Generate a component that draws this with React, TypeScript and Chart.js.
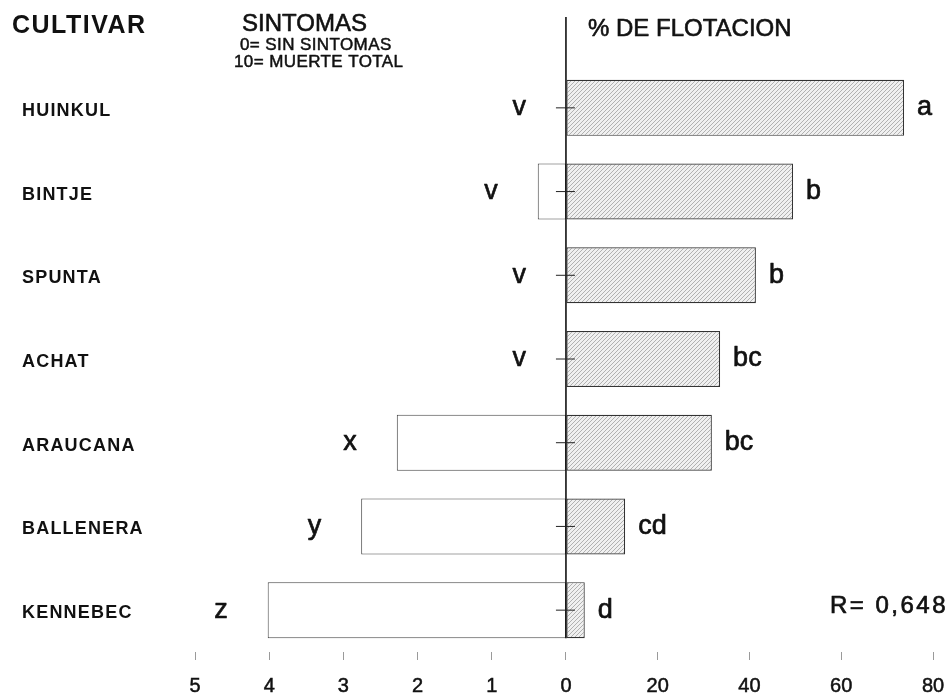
import React, { useEffect, useRef } from 'react';
import { Chart, registerables } from 'chart.js';

Chart.register(...registerables);

const FONT = "'Liberation Sans', Arial, Helvetica, sans-serif";

const CULTIVARS = ['HUINKUL', 'BINTJE', 'SPUNTA', 'ACHAT', 'ARAUCANA', 'BALLENERA', 'KENNEBEC'];
const SYMPTOMS = [0, 0.38, 0, 0, 2.28, 2.76, 4.02];
const FLOTATION = [73.7, 49.5, 41.4, 33.6, 31.8, 12.9, 4.1];
const SYMPTOM_LETTERS = ['v', 'v', 'v', 'v', 'x', 'y', 'z'];
const FLOTATION_LETTERS = ['a', 'b', 'b', 'bc', 'bc', 'cd', 'd'];
const SYMPTOM_TICKS = [5, 4, 3, 2, 1];
const FLOTATION_TICKS = [0, 20, 40, 60, 80];
const SYMPTOM_MAX = 5;
const FLOTATION_MAX = 80;
// how many % flotation units one symptom unit spans on the shared axis
const RATIO = 16.17;
const R_TEXT = 'R= 0,648';

function makeHatch(ctx: CanvasRenderingContext2D) {
  const c = document.createElement('canvas');
  c.width = 4;
  c.height = 4;
  const g = c.getContext('2d')!;
  g.fillStyle = '#f0f0f0';
  g.fillRect(0, 0, 4, 4);
  g.strokeStyle = '#a9a9a9';
  g.lineWidth = 0.9;
  g.beginPath();
  g.moveTo(0, 4);
  g.lineTo(4, 0);
  g.moveTo(-1, 1);
  g.lineTo(1, -1);
  g.moveTo(3, 5);
  g.lineTo(5, 3);
  g.stroke();
  return ctx.createPattern(c, 'repeat');
}

function heavyText(ctx: CanvasRenderingContext2D, t: string, x: number, y: number, w: number) {
  ctx.lineWidth = w;
  ctx.strokeStyle = ctx.fillStyle as string;
  ctx.lineJoin = 'round';
  ctx.strokeText(t, x, y);
  ctx.fillText(t, x, y);
}

const annotate = {
  id: 'annotate',
  afterDatasetsDraw(chart: any) {
    const ctx = chart.ctx;
    const xs = chart.scales.x;
    const ys = chart.scales.y;
    const x0 = xs.getPixelForValue(0);
    const metaS = chart.getDatasetMeta(0);
    const metaF = chart.getDatasetMeta(1);
    const last = metaF.data[metaF.data.length - 1];
    const bottom = last.y + last.height / 2;
    ctx.save();
    ctx.strokeStyle = '#111';
    ctx.lineWidth = 1.6;
    ctx.beginPath();
    ctx.moveTo(x0, 17);
    ctx.lineTo(x0, bottom);
    ctx.stroke();
    ctx.lineWidth = 1;
    ctx.strokeStyle = '#222';
    CULTIVARS.forEach((_, i) => {
      const py = ys.getPixelForValue(i);
      ctx.beginPath();
      ctx.moveTo(x0 - 10, py);
      ctx.lineTo(x0 + 9, py);
      ctx.stroke();
    });
    ctx.font = `27px ${FONT}`;
    ctx.fillStyle = '#111';
    ctx.textBaseline = 'middle';
    FLOTATION_LETTERS.forEach((t, i) => {
      const el = metaF.data[i];
      ctx.textAlign = 'left';
      heavyText(ctx, t, el.x + 13, el.y, 0.7);
    });
    SYMPTOM_LETTERS.forEach((t, i) => {
      const el = metaS.data[i];
      ctx.textAlign = 'right';
      heavyText(ctx, t, el.x - 40, el.y, 0.7);
    });
    ctx.restore();
    // y-axis labels (drawn right after this hook) use wide tracking
    ctx.letterSpacing = '1.2px';
  },
  afterDraw(chart: any) {
    const ctx = chart.ctx;
    ctx.letterSpacing = '0px';
    ctx.save();
    ctx.fillStyle = '#111';
    ctx.textBaseline = 'middle';
    ctx.textAlign = 'left';

    ctx.font = `bold 25px ${FONT}`;
    ctx.letterSpacing = '1.5px';
    ctx.fillText('CULTIVAR', 12, 26);

    ctx.letterSpacing = '0px';
    ctx.font = `24px ${FONT}`;
    heavyText(ctx, 'SINTOMAS', 242, 24, 0.6);
    ctx.font = `17px ${FONT}`;
    ctx.letterSpacing = '0.4px';
    heavyText(ctx, '0= SIN SINTOMAS', 240, 45, 0.5);
    heavyText(ctx, '10= MUERTE TOTAL', 234, 62, 0.5);

    ctx.letterSpacing = '0px';
    ctx.font = `24px ${FONT}`;
    heavyText(ctx, '% DE FLOTACION', 588, 29, 0.6);

    ctx.font = `24px ${FONT}`;
    ctx.letterSpacing = '2.5px';
    ctx.textAlign = 'right';
    heavyText(ctx, R_TEXT, 948, 606, 0.7);
    ctx.restore();
    ctx.letterSpacing = '0px';
  },
};

export default function App() {
  const ref = useRef<HTMLCanvasElement>(null);

  useEffect(() => {
    const canvas = ref.current!;
    const ctx = canvas.getContext('2d')!;
    const hatch = makeHatch(ctx);
    const chart = new Chart(canvas, {
      type: 'bar',
      data: {
        labels: CULTIVARS,
        datasets: [
          {
            label: 'Síntomas',
            data: SYMPTOMS,
            xAxisID: 'xs',
            backgroundColor: '#ffffff',
            borderColor: '#444',
            borderWidth: 1,
            borderSkipped: false,
            grouped: false,
            categoryPercentage: 1,
            barPercentage: 0.669,
          } as any,
          {
            label: '% de flotación',
            data: FLOTATION,
            xAxisID: 'x',
            backgroundColor: hatch as any,
            borderColor: '#333',
            borderWidth: 1.2,
            borderSkipped: false,
            grouped: false,
            categoryPercentage: 1,
            barPercentage: 0.669,
          } as any,
        ],
      },
      options: {
        indexAxis: 'y',
        responsive: false,
        maintainAspectRatio: false,
        animation: false,
        events: [],
        layout: { padding: { left: 22, right: 16, top: 66, bottom: 0 } },
        plugins: {
          legend: { display: false },
          tooltip: { enabled: false },
        },
        scales: {
          x: {
            type: 'linear',
            position: 'bottom',
            min: -SYMPTOM_MAX * RATIO,
            max: FLOTATION_MAX,
            afterBuildTicks: (scale: any) => {
              scale.ticks = [
                ...SYMPTOM_TICKS.map((v) => ({ value: -v * RATIO })),
                ...FLOTATION_TICKS.map((v) => ({ value: v })),
              ];
            },
            afterFit: (scale: any) => {
              scale.height = 43;
              scale.paddingLeft = 0;
              scale.paddingRight = 0;
            },
            grid: {
              display: true,
              drawOnChartArea: false,
              drawTicks: true,
              tickLength: 8,
              tickColor: '#9a9a9a',
              lineWidth: 1,
            },
            border: { display: false },
            ticks: {
              autoSkip: false,
              maxRotation: 0,
              padding: 14,
              color: '#111',
              textStrokeColor: '#111',
              textStrokeWidth: 0.5,
              font: { family: FONT, size: 20 },
              callback: (value: any) => {
                const v = Number(value);
                return v < 0 ? String(Math.round(-v / RATIO)) : String(v);
              },
            },
          },
          xs: {
            type: 'linear',
            display: false,
            position: 'bottom',
            reverse: true,
            min: -FLOTATION_MAX / RATIO,
            max: SYMPTOM_MAX,
          },
          y: {
            type: 'category',
            position: 'left',
            afterFit: (scale: any) => {
              scale.width = 173;
              scale.paddingTop = 0;
              scale.paddingBottom = 0;
            },
            grid: { display: false },
            border: { display: false },
            ticks: {
              z: 1,
              crossAlign: 'far',
              padding: 0,
              labelOffset: 3,
              color: '#111',
              font: { family: FONT, size: 18, weight: 'bold' },
            },
          },
        },
      } as any,
      plugins: [annotate],
    });
    return () => chart.destroy();
  }, []);

  return (
    <div style={{ position: 'fixed', left: 0, top: 0, width: 949, height: 695, background: '#fff' }}>
      <canvas ref={ref} width={949} height={695} style={{ display: 'block' }} />
    </div>
  );
}
